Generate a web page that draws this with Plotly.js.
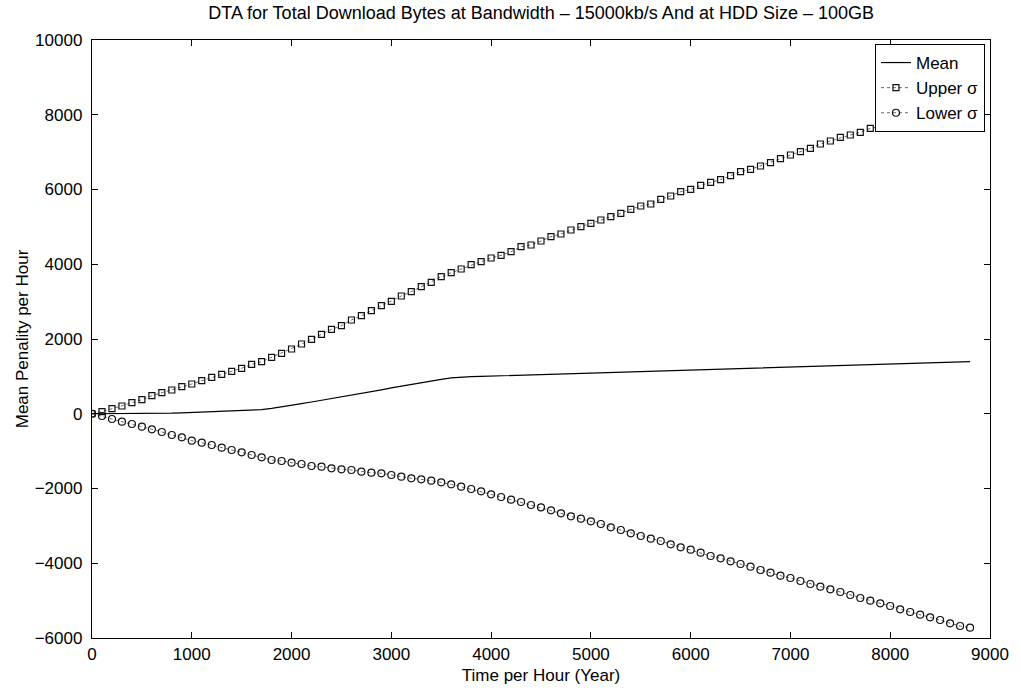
<!DOCTYPE html>
<html>
<head>
<meta charset="utf-8">
<script src="https://cdn.plot.ly/plotly-3.0.1.min.js"></script>
<style>
html,body{margin:0;padding:0;background:#fff;}
#chart{width:1021px;height:690px;}
</style>
</head>
<body>
<div id="chart"></div>
<script>
const hours = [0,100,200,300,400,500,600,700,800,900,1000,1100,1200,1300,1400,1500,1600,1700,1800,1900,2000,2100,2200,2300,2400,2500,2600,2700,2800,2900,3000,3100,3200,3300,3400,3500,3600,3700,3800,3900,4000,4100,4200,4300,4400,4500,4600,4700,4800,4900,5000,5100,5200,5300,5400,5500,5600,5700,5800,5900,6000,6100,6200,6300,6400,6500,6600,6700,6800,6900,7000,7100,7200,7300,7400,7500,7600,7700,7800,7900,8000,8100,8200,8300,8400,8500,8600,8700,8800];

const meanVals = [0,0,0,0,0,0,5,10,15,25,35,45,55,60,65,90,100,110,145,180,220,270,315,360,400,445,495,545,590,640,690,740,785,830,880,920,960,980,995,1000,1008,1020,1030,1045,1055,1060,1065,1075,1085,1095,1100,1110,1115,1125,1130,1140,1145,1155,1160,1170,1175,1185,1190,1200,1205,1215,1220,1230,1235,1245,1250,1260,1265,1275,1280,1290,1300,1305,1315,1320,1330,1340,1345,1355,1360,1370,1380,1385,1395];

const upperVals = [0,55,135,207,296,376,483,563,635,724,796,884,975,1056,1136,1216,1323,1393,1510,1617,1732,1866,1992,2126,2260,2356,2508,2623,2757,2891,3009,3151,3266,3399,3517,3667,3774,3873,3988,4068,4167,4239,4336,4470,4515,4622,4737,4809,4916,5005,5096,5184,5272,5363,5470,5559,5612,5738,5826,5941,6005,6110,6190,6265,6369,6476,6540,6629,6717,6824,6923,7011,7102,7217,7298,7397,7458,7530,7637,7680,7770,7860,7950,8040,8130,8220,8300,8390,8480];

const lowerVals = [0,-60,-140,-213,-274,-346,-416,-488,-569,-630,-721,-775,-836,-908,-970,-1032,-1104,-1165,-1237,-1264,-1310,-1344,-1398,-1417,-1460,-1486,-1505,-1550,-1577,-1593,-1639,-1684,-1727,-1754,-1791,-1834,-1888,-1952,-2013,-2075,-2155,-2227,-2300,-2361,-2441,-2503,-2583,-2664,-2744,-2808,-2878,-2950,-3038,-3110,-3199,-3271,-3343,-3405,-3493,-3573,-3637,-3718,-3806,-3868,-3948,-4020,-4092,-4181,-4253,-4333,-4395,-4475,-4555,-4627,-4697,-4769,-4849,-4930,-5002,-5072,-5144,-5232,-5304,-5377,-5446,-5518,-5607,-5679,-5724];

const seriesNames = ['Mean', 'Upper \u03c3', 'Lower \u03c3'];
const titleText = 'DTA for Total Download Bytes at Bandwidth \u2013 15000kb/s And at HDD Size \u2013 100GB';
const xTitle = 'Time per Hour (Year)';
const yTitle = 'Mean Penality per Hour';

const FONT = 'Liberation Sans, Arial, Helvetica, sans-serif';

const traces = [
  {x: hours, y: meanVals, name: seriesNames[0], type: 'scatter', mode: 'lines',
   line: {color: '#000', width: 1.2}},
  {x: hours, y: upperVals, name: seriesNames[1], type: 'scatter', mode: 'lines+markers',
   line: {color: '#666', width: 1, dash: 'dot'},
   marker: {symbol: 'square-open', size: 6, color: '#111', line: {width: 1.2, color: '#111'}}},
  {x: hours, y: lowerVals, name: seriesNames[2], type: 'scatter', mode: 'lines+markers',
   line: {color: '#666', width: 1, dash: 'dot'},
   marker: {symbol: 'circle-open', size: 7, color: '#111', line: {width: 1.2, color: '#111'}}}
];

const axisCommon = {
  showgrid: false, zeroline: false, showline: true, mirror: 'ticks',
  linecolor: '#000', linewidth: 1.2, ticks: 'inside', ticklen: 6, tickwidth: 1,
  tickcolor: '#000', tickformat: 'd',
  tickfont: {family: FONT, size: 17, color: '#000'}
};

const layout = {
  width: 1021, height: 690,
  margin: {l: 92, r: 31, t: 40, b: 52},
  paper_bgcolor: '#fff', plot_bgcolor: '#fff',
  font: {family: FONT, color: '#000'},
  title: {text: titleText, font: {family: FONT, size: 18, color: '#000'},
          x: 0.53, xanchor: 'center', y: 0.982, yanchor: 'middle'},
  xaxis: Object.assign({}, axisCommon, {
    range: [0, 9000], dtick: 1000, tick0: 0,
    title: {text: xTitle, font: {family: FONT, size: 17, color: '#000'}, standoff: 6}
  }),
  yaxis: Object.assign({}, axisCommon, {
    range: [-6000, 10000], dtick: 2000, tick0: 0,
    ticklabelstandoff: 5,
    title: {text: yTitle, font: {family: FONT, size: 17, color: '#000'}, standoff: 1}
  }),
  showlegend: true,
  legend: {x: 0.9944, xanchor: 'right', y: 0.9933, yanchor: 'top',
           bgcolor: '#fff', bordercolor: '#000', borderwidth: 1,
           font: {family: FONT, size: 17, color: '#000'},
           itemwidth: 30, tracegroupgap: 0}
};

Plotly.newPlot('chart', traces, layout, {displayModeBar: false, staticPlot: true});
</script>
</body>
</html>
